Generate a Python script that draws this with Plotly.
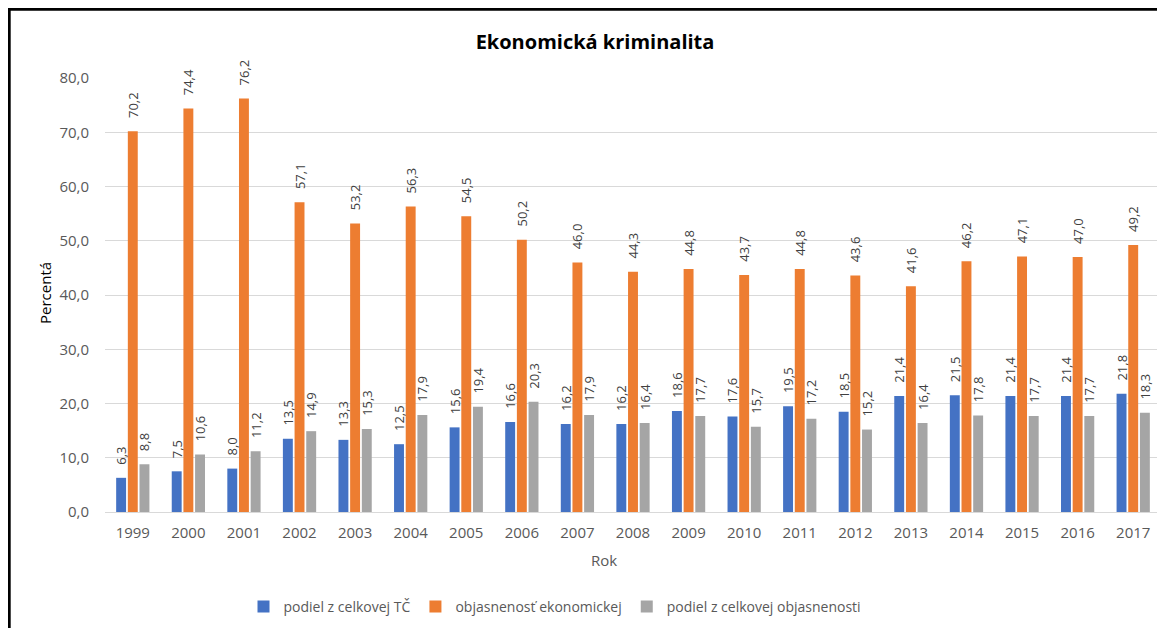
import plotly.graph_objects as go

years = [str(y) for y in range(1999, 2018)]
podiel_tc = [6.3, 7.5, 8.0, 13.5, 13.3, 12.5, 15.6, 16.6, 16.2, 16.2, 18.6, 17.6, 19.5, 18.5, 21.4, 21.5, 21.4, 21.4, 21.8]
objasnenost = [70.2, 74.4, 76.2, 57.1, 53.2, 56.3, 54.5, 50.2, 46.0, 44.3, 44.8, 43.7, 44.8, 43.6, 41.6, 46.2, 47.1, 47.0, 49.2]
podiel_obj = [8.8, 10.6, 11.2, 14.9, 15.3, 17.9, 19.4, 20.3, 17.9, 16.4, 17.7, 15.7, 17.2, 15.2, 16.4, 17.8, 17.7, 17.7, 18.3]

series_names = ["podiel z celkovej TČ", "objasnenosť ekonomickej", "podiel z celkovej objasnenosti"]
series_colors = ["#4472C4", "#ED7D31", "#A5A5A5"]

# page body has an 8px default margin: the figure starts at screen (8, 8)
OFF = 8
SW, SH = 1165, 628            # screen size
W, H = SW - OFF, SH - OFF     # figure size
# plot area in screen pixels
X0, X1, Y0, Y1 = 105, 1161, 78, 512
ML, MR, MT, MB = X0 - OFF, SW - X1, Y0 - OFF, SH - Y1
PW = X1 - X0
PH = Y1 - Y0
FONT = "'Open Sans', 'Liberation Sans', sans-serif"


def px(x):
    return (x - X0) / PW


def py(y):
    return (Y1 - y) / PH


fig = go.Figure()
for name, vals, col in zip(series_names, [podiel_tc, objasnenost, podiel_obj], series_colors):
    fig.add_trace(go.Bar(
        x=years, y=vals, name=name,
        marker=dict(color=col, line=dict(width=0)),
        texttemplate="\u00a0\u00a0\u00a0%{y:.1f}",
        textposition="outside",
        textangle=-90,
        constraintext="none",
        cliponaxis=False,
        textfont=dict(family=FONT, size=13, color="#404040"),
        hoverinfo="skip",
    ))

fig.update_layout(
    width=W, height=H,
    margin=dict(l=ML, r=MR, t=MT, b=MB),
    paper_bgcolor="white", plot_bgcolor="white",
    separators=", ",
    barmode="group", bargap=0.37, bargroupgap=0.15,
    font=dict(family=FONT, color="#595959"),
    title=dict(text="<b>Ekonomická kriminalita</b>", x=(595 - OFF) / W, xanchor="center",
               y=1 - (42 - OFF) / H, yanchor="middle",
               font=dict(family=FONT, size=20, color="#000000")),
    xaxis=dict(showgrid=False, showline=False, ticks="", ticklabelstandoff=10,
               tickfont=dict(family=FONT, size=15, color="#595959")),
    yaxis=dict(range=[0, 80], dtick=10, tickformat=".1f",
               showgrid=True, gridcolor="#D9D9D9", gridwidth=1,
               zeroline=True, zerolinecolor="#D9D9D9", zerolinewidth=1,
               showline=False, ticks="", ticklabelstandoff=15,
               tickfont=dict(family=FONT, size=15, color="#595959")),
    legend=dict(orientation="h", x=px(555), xanchor="center", y=py(607), yanchor="middle",
                font=dict(family=FONT, size=14, color="#595959"),
                itemwidth=30, traceorder="normal"),
    showlegend=True,
    annotations=[
        dict(text="Percentá", xref="paper", yref="paper", x=px(45), y=py(293),
             textangle=-90, showarrow=False, xanchor="center", yanchor="middle",
             font=dict(family=FONT, size=15, color="#000000")),
        dict(text="Rok", xref="paper", yref="paper", x=px(604), y=py(560),
             showarrow=False, xanchor="center", yanchor="middle",
             font=dict(family=FONT, size=15, color="#595959")),
    ],
    shapes=[
        dict(type="line", xref="paper", yref="paper", x0=px(8), x1=px(1170), y0=py(9.3), y1=py(9.3),
             line=dict(color="#000000", width=2.8)),
        dict(type="line", xref="paper", yref="paper", x0=px(9.3), x1=px(9.3), y0=py(8), y1=py(640),
             line=dict(color="#000000", width=2.8)),
    ],
)

fig.write_html("out.html")
